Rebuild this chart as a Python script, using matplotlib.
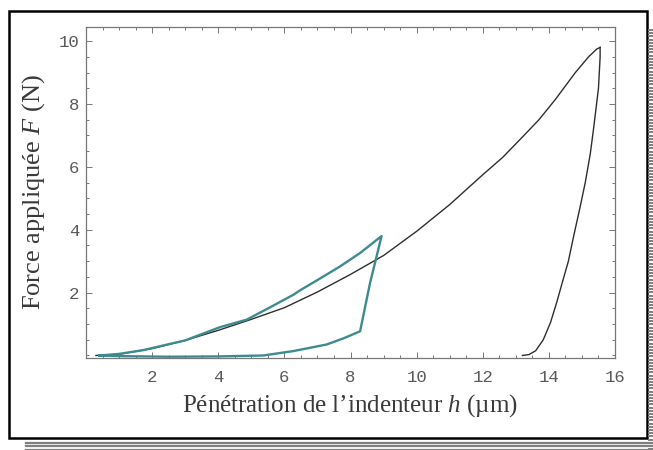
import numpy as np
import matplotlib.pyplot as plt
from matplotlib.patches import Rectangle
from matplotlib.lines import Line2D
from matplotlib.ticker import MultipleLocator

plt.rcParams["mathtext.fontset"] = "custom"
plt.rcParams["mathtext.it"] = "Liberation Serif:italic"
plt.rcParams["mathtext.rm"] = "Liberation Serif"

# big indentation cycle (black): loading then unloading
h_load = [0.3, 1.0, 2.0, 3.0, 4.0, 5.0, 6.0, 7.0, 8.0, 9.0, 10.0, 11.0, 12.0,
          12.6, 13.2, 13.7, 14.2, 14.8, 15.2, 15.45, 15.55]
F_load = [0.0, 0.04, 0.22, 0.48, 0.8, 1.15, 1.52, 2.02, 2.58, 3.18, 3.95, 4.8,
          5.75, 6.3, 6.95, 7.5, 8.15, 9.0, 9.5, 9.75, 9.8]
h_unload = [15.55, 15.55, 15.5, 15.35, 15.25, 15.1, 14.94, 14.75, 14.59, 14.4,
            14.24, 14.05, 13.83, 13.6, 13.4, 13.2]
F_unload = [9.8, 9.5, 8.5, 7.2, 6.4, 5.5, 4.7, 3.8, 3.0, 2.3, 1.7, 1.05, 0.5,
            0.15, 0.03, 0.0]

# small cycle (teal): closed loop
h_small = [0.4, 1.0, 1.73, 3.0, 4.05, 4.86, 5.6, 6.27, 6.47, 7.0, 7.68, 8.29,
           8.94, 8.59, 8.29, 7.8, 7.28, 6.27, 5.36, 4.0, 2.5, 1.0, 0.4]
F_small = [0.0, 0.05, 0.17, 0.48, 0.9, 1.14, 1.55, 1.93, 2.07, 2.4, 2.83, 3.26,
           3.8, 2.3, 0.77, 0.55, 0.35, 0.14, 0.0, -0.03, -0.04, -0.02, 0.0]

x_ticks = [2, 4, 6, 8, 10, 12, 14, 16]
y_ticks = [2, 4, 6, 8, 10]

W, H = 653, 450
fig = plt.figure(figsize=(W / 100, H / 100), dpi=100)
ax = fig.add_axes([86 / W, 1 - 358 / H, (615 - 86) / W, (358 - 27) / H])

ax.plot(h_load, F_load, color="#2e2e2e", lw=1.0)
ax.plot(h_unload, F_unload, color="#2e2e2e", lw=1.0)
ax.plot(h_small, F_small, color="#3d8a8f", lw=1.7)

ax.set_xlim(0, 16)
ax.set_ylim(-0.08, 10.45)
ax.set_xticks(x_ticks)
ax.set_yticks(y_ticks)
ax.xaxis.set_minor_locator(MultipleLocator(0.5))
ax.yaxis.set_minor_locator(MultipleLocator(0.5))
ax.tick_params(which="both", direction="in", top=True, right=True,
               color="#777777", width=0.7)
ax.tick_params(which="major", length=4.5, labelsize=12.5, labelcolor="#5a5a5a")
ax.tick_params(axis="x", which="major", pad=9)
ax.tick_params(axis="y", which="major", pad=5)
ax.tick_params(which="minor", length=2.5)
for lab in ax.get_xticklabels() + ax.get_yticklabels():
    lab.set_family("Liberation Mono")
for sp in ax.spines.values():
    sp.set_color("#777777")
    sp.set_linewidth(0.9)

ax.set_xlabel("Pénétration de l’indenteur $h$ (µm)", family="Liberation Serif",
              fontsize=18, color="#3a3a3a", labelpad=5)
ax.set_ylabel("Force appliquée $F$ (N)", family="Liberation Serif",
              fontsize=19, color="#3a3a3a", labelpad=8)

# scanned frame with shadow stripes
fig.add_artist(Rectangle((9 / W, 1 - 438 / H), (647 - 9) / W, (438 - 11) / H,
                         transform=fig.transFigure, fill=False, lw=1.8, ec="black"))
for yy in [442.5, 446, 449.5]:
    fig.add_artist(Line2D([26 / W, 1], [1 - yy / H] * 2, transform=fig.transFigure,
                          color="#7f7f7f", lw=1.6))
for yy in np.arange(30, 450, 3.2):
    fig.add_artist(Line2D([648.5 / W, 1], [1 - yy / H] * 2, transform=fig.transFigure,
                          color="#7f7f7f", lw=1.4))

fig.savefig("out.png", dpi=100)
